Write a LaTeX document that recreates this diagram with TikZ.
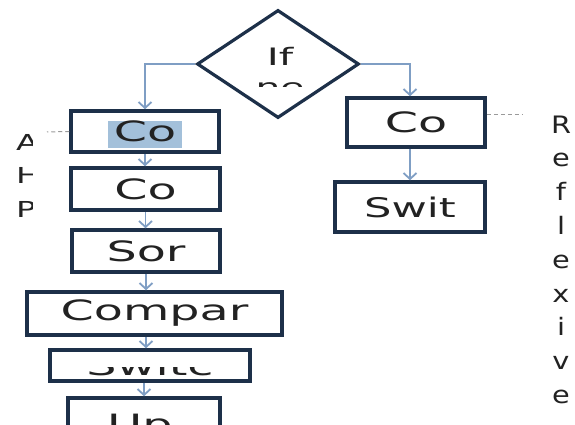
\documentclass[tikz,border=0pt]{standalone}
\usepackage{fontspec}
\usepackage{graphicx}
\setmainfont{DejaVu Sans}
\usetikzlibrary{shapes.geometric,arrows.meta}

\definecolor{boxline}{HTML}{1D3049}
\definecolor{connblue}{HTML}{7F9EC4}
\definecolor{dashgray}{HTML}{9A9A9A}
\definecolor{hlblue}{HTML}{A3C0DA}
\definecolor{ink}{HTML}{222222}

\newcommand\boxfont{\fontsize{28}{28}\selectfont}
\newcommand\sidefont{\fontsize{24}{24}\selectfont}
\newcommand\leftfont{\fontsize{22}{22}\selectfont}
\newcommand\wide[1]{\scalebox{1.7}[1]{#1}}

\tikzset{
  stepbox/.style={draw=boxline, line width=3.5pt, fill=white, inner sep=0pt},
  boxtext/.style={font=\boxfont, text=ink, inner sep=0pt},
  decision/.style={diamond, draw=boxline, line width=3.2pt, fill=white, inner sep=0pt,
    minimum width=162pt, minimum height=108pt},
  conn/.style={draw=connblue, line width=1.8pt,
    -{Straight Barb[length=6pt,width=13pt,line width=1.8pt]}},
  dashline/.style={draw=dashgray, line width=1pt, dash pattern=on 4pt off 3pt},
  sideletter/.style={font=\sidefont, text=ink, inner sep=0pt},
  leftletter/.style={font=\leftfont, text=ink, inner sep=0pt},
}

\begin{document}
\begin{tikzpicture}[x=1pt, y=-1pt]
  \useasboundingbox (0,0) rectangle (575,425);
  \clip (0,0) rectangle (575,425);
  \fill[white] (0,0) rectangle (575,425);

  % decision
  \node[decision] (dia) at (278,64) {};
  \node[boxtext, font=\fontsize{24}{24}\selectfont, anchor=base] (diat) at (280,66) {\wide{If}};
  \begin{scope}
    \clip (220,82.5) rectangle (340,87);
    \node[boxtext, font=\fontsize{23}{23}\selectfont, anchor=base] (diab) at (280,96) {\wide{ne}};
  \end{scope}

  % left column
  \node[stepbox, minimum width=148pt, minimum height=41pt] (b1) at (145,131.5) {};
  \fill[hlblue] (108,121) rectangle (182,148);
  \node[boxtext] (b1t) at (b1) {\wide{Co}};
  \node[stepbox, boxtext, minimum width=149pt, minimum height=42pt] (b2) at (145.5,189) {\wide{Co}};
  \node[stepbox, boxtext, minimum width=148pt, minimum height=42pt] (b3) at (146,251) {\wide{Sor}};
  \node[stepbox, boxtext, minimum width=255pt, minimum height=43pt] (b4) at (154.5,313.5) {\wide{Compar}};
  \node[stepbox, minimum width=200pt, minimum height=31pt] (b5) at (150,365.5) {};
  \begin{scope}
    \clip (55,367) rectangle (245,378);
    \node[boxtext, anchor=base] (b5t) at (150,375) {\wide{Switc}};
  \end{scope}
  \node[stepbox, minimum width=152pt, minimum height=50pt] (b6) at (144,423) {};
  \node[boxtext, anchor=base] (b6t) at (140,434) {\wide{Up}};

  % right column
  \node[stepbox, boxtext, minimum width=138pt, minimum height=49pt] (r1) at (416,122.5) {\wide{Co}};
  \node[stepbox, boxtext, font=\fontsize{27}{27}\selectfont, minimum width=150pt, minimum height=50pt] (r2) at (410,207) {\scalebox{1.6}[1]{Swit}};

  % connectors
  \draw[conn] (dia.west) -| (b1.north);
  \draw[conn] (dia.east) -| (r2.north |- r1.north);
  \draw[conn] (b1.south) -- (b1.south |- b2.north);
  \draw[conn] (b2.south) -- (b2.south |- b3.north);
  \draw[conn] (b3.south) -- (b3.south |- b4.north);
  \draw[conn] (b3.south |- b4.south) -- (b3.south |- b5.north);
  \draw[conn] (b6.north |- b5.south) -- (b6.north);
  \draw[conn] (r2.north |- r1.south) -- (r2.north);

  % annotation leaders
  \coordinate (ld) at (47,132);
  \coordinate (rd) at (522,115);
  \draw[dashline] (b1.west) -- (ld);
  \draw[dashline] ([yshift=7.5pt]r1.east) -- (rd);

  % left annotation, cut at its edge
  \begin{scope}
    \clip (0,0) rectangle (32,425);
    \node[leftletter, anchor=base west] (la) at (16,150) {\scalebox{1.5}[1]{A}};
    \node[leftletter, anchor=base west] (lh) at (16,183) {\scalebox{1.5}[1]{H}};
    \node[leftletter, anchor=base west] (lp) at (16,217) {\scalebox{1.5}[1]{P}};
  \end{scope}

  % right annotation, one letter per line
  \foreach \ch [count=\i from 0] in {R,e,f,l,e,x,i,v,e}
    \node[sideletter, anchor=base] (rl\i) at (561,{133+33.8*\i}) {\scalebox{1.2}[1]{\ch}};
\end{tikzpicture}
\end{document}
